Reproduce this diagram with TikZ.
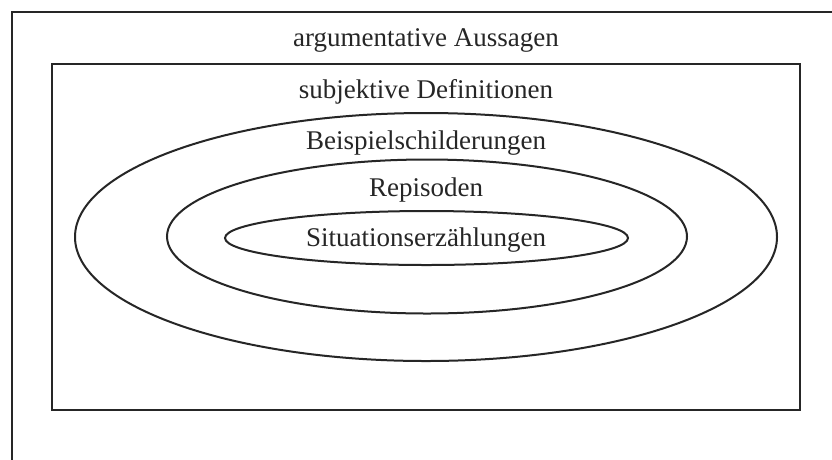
\documentclass[tikz,border=0pt]{standalone}
\usepackage{fontspec}
\setmainfont{Liberation Serif}
\begin{document}
\begin{tikzpicture}[x=1pt,y=-1pt,
  frame/.style={draw=black!85,line width=2pt},
  lbl/.style={anchor=base,inner sep=0pt,font=\fontsize{27}{30}\selectfont,text=black!85}]
\clip (0,0) rectangle (832,459);
\fill[white] (0,0) rectangle (832,459);
\draw[frame] (12,12) rectangle (860,490);
\draw[frame] (52,64) rectangle (800,410);
\draw[frame] (426,237) ellipse [x radius=351, y radius=124];
\draw[frame] (427,236.5) ellipse [x radius=260, y radius=77];
\draw[frame] (426.5,238) ellipse [x radius=201.5, y radius=27];
\node[lbl] (arg) at (426,46) {argumentative Aussagen};
\node[lbl] (subj) at (426,98) {subjektive Definitionen};
\node[lbl] (beis) at (426,149) {Beispielschilderungen};
\node[lbl] (rep) at (426,196) {Repisoden};
\node[lbl] (sit) at (426,246) {Situationserzählungen};
\end{tikzpicture}
\end{document}
